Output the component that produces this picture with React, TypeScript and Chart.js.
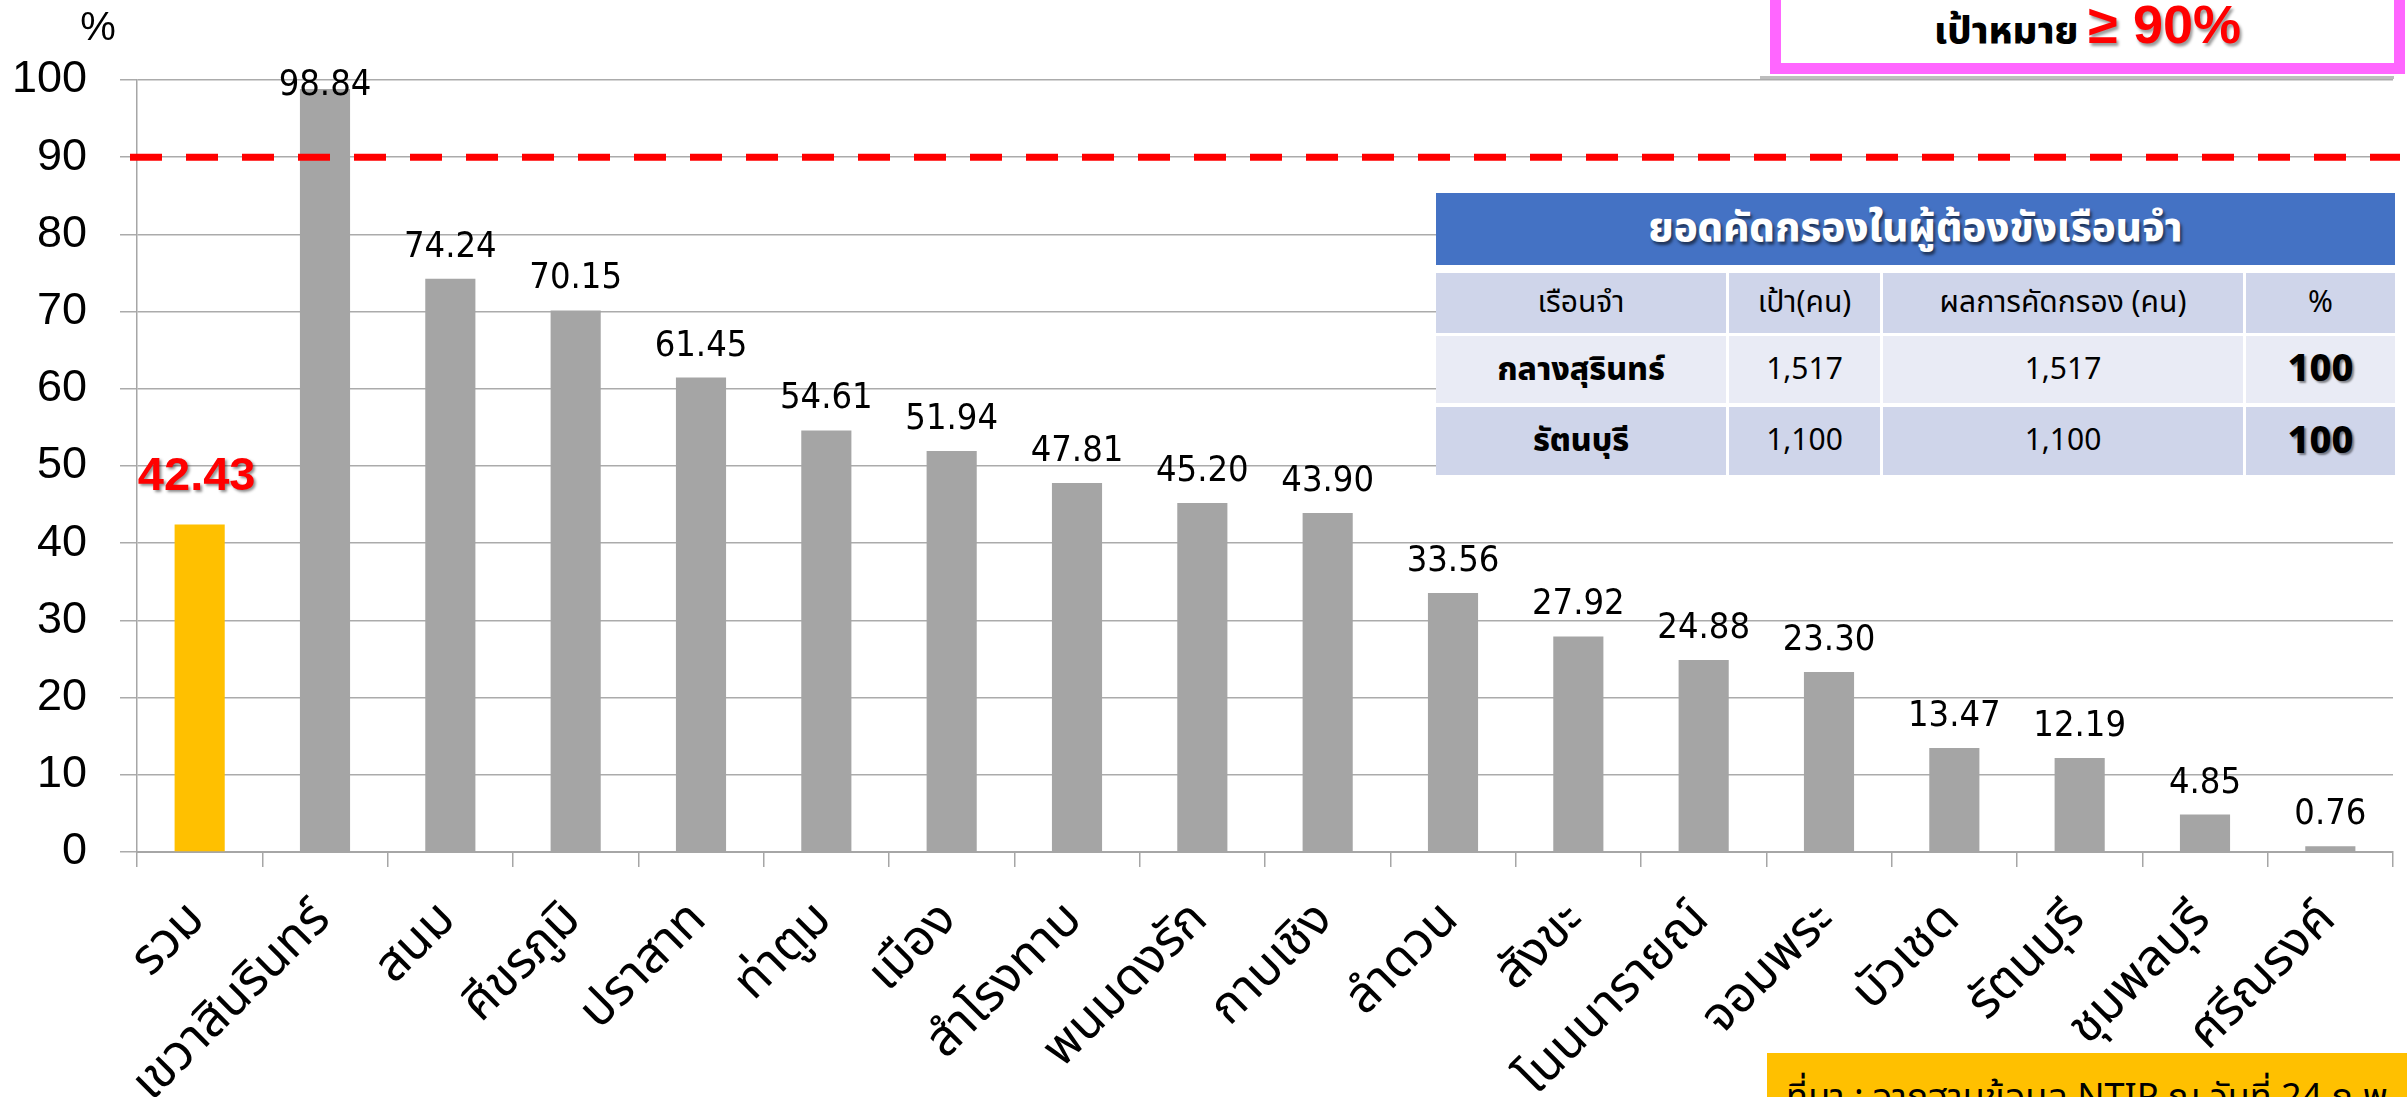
import React, { useEffect, useRef } from "react";
import { Chart, registerables } from "chart.js";

Chart.register(...registerables);

// ---------- data ----------
const categories = [
  "รวม",
  "เขวาสินรินทร์",
  "สนม",
  "ศีขรภูมิ",
  "ปราสาท",
  "ท่าตูม",
  "เมือง",
  "สำโรงทาบ",
  "พนมดงรัก",
  "กาบเชิง",
  "ลำดวน",
  "สังขะ",
  "โนนนารายณ์",
  "จอมพระ",
  "บัวเชด",
  "รัตนบุรี",
  "ชุมพลบุรี",
  "ศรีณรงค์",
];
const values = [
  42.43, 98.84, 74.24, 70.15, 61.45, 54.61, 51.94, 47.81, 45.2, 43.9, 33.56,
  27.92, 24.88, 23.3, 13.47, 12.19, 4.85, 0.76,
];
const TARGET = 90;
const Y_MIN = 0;
const Y_MAX = 100;
const Y_STEP = 10;
const yUnit = "%";
const targetTitle = "เป้าหมาย";
const targetText = "≥ 90%";
const tableTitle = "ยอดคัดกรองในผู้ต้องขังเรือนจำ";
const tableHeader = ["เรือนจำ", "เป้า(คน)", "ผลการคัดกรอง (คน)", "%"];
const tablePrisons = ["กลางสุรินทร์", "รัตนบุรี"];
const tableTargets = ["1,517", "1,100"];
const tableResults = ["1,517", "1,100"];
const tablePercents = ["100", "100"];
const sourceNote = "ที่มา : จากฐานข้อมูล NTIP ณ วันที่ 24 ก.พ. 2568";

const FONT = "'Noto Sans Thai', 'Noto Sans', Roboto, sans-serif";
const NUM_FONT = "'DejaVu Sans Condensed', 'Liberation Sans Narrow', 'Liberation Sans', sans-serif";
const W = 2407;
const H = 1097;

const labelPlugin = {
  id: "overlayLabels",
  afterDatasetsDraw(chart: any) {
    const { ctx, chartArea, scales } = chart;
    const y = scales.y;
    // target line
    const ty = y.getPixelForValue(TARGET);
    ctx.save();
    ctx.strokeStyle = "#FF0000";
    ctx.lineWidth = 7;
    ctx.setLineDash([32, 24]);
    ctx.beginPath();
    ctx.moveTo(130, ty);
    ctx.lineTo(2400, ty);
    ctx.stroke();
    ctx.restore();

    // value labels
    const meta = chart.getDatasetMeta(0);
    meta.data.forEach((bar: any, i: number) => {
      const v = values[i];
      const txt = v.toFixed(2);
      ctx.save();
      ctx.textAlign = "center";
      ctx.textBaseline = "alphabetic";
      if (i === 0) {
        ctx.font = `bold 47px 'Liberation Sans', Arial, sans-serif`;
        ctx.fillStyle = "#FF0000";
        ctx.shadowColor = "rgba(0,0,0,0.45)";
        ctx.shadowOffsetX = 2;
        ctx.shadowOffsetY = 2;
        ctx.shadowBlur = 3;
        ctx.fillText(txt, bar.x - 3, bar.y - 34);
      } else {
        ctx.font = `36px ${NUM_FONT}`;
        ctx.fillStyle = "#000000";
        const base = Math.max(bar.y - 22, chartArea.top + 15);
        ctx.fillText(txt, bar.x, base);
      }
      ctx.restore();
    });

    // y unit
    ctx.save();
    ctx.font = `40px 'Liberation Sans', Arial, sans-serif`;
    ctx.fillStyle = "#000";
    ctx.textAlign = "center";
    ctx.textBaseline = "alphabetic";
    ctx.fillText(yUnit, 98, 40);
    ctx.restore();
  },
};

export default function App() {
  const ref = useRef<HTMLCanvasElement | null>(null);

  useEffect(() => {
    if (!ref.current) return;
    const chart = new Chart(ref.current, {
      type: "bar",
      data: {
        labels: categories,
        datasets: [
          {
            data: values,
            backgroundColor: values.map((_, i) => (i === 0 ? "#FFC000" : "#A5A5A5")),
            barPercentage: 0.4,
            categoryPercentage: 1,
          },
        ],
      },
      options: {
        animation: false,
        responsive: false,
        maintainAspectRatio: false,
        devicePixelRatio: 1,
        layout: { padding: { top: 80, right: 14, left: 0, bottom: 0 }, autoPadding: false },
        plugins: { legend: { display: false }, tooltip: { enabled: false } },
        scales: {
          x: {
            grid: {
              display: true,
              drawOnChartArea: false,
              drawTicks: true,
              tickLength: 15,
              color: "#A6A6A6",
              lineWidth: 1.5,
              offset: true,
            },
            border: { color: "#A6A6A6", width: 2 },
            ticks: {
              maxRotation: 45,
              minRotation: 45,
              autoSkip: false,
              font: { size: 50, family: FONT },
              color: "#000",
              padding: 26,
            },
            afterFit: (s: any) => {
              s.height = H - 852;
            },
          },
          y: {
            min: Y_MIN,
            max: Y_MAX,
            ticks: {
              stepSize: Y_STEP,
              font: { size: 45, family: "'Liberation Sans', Arial, sans-serif" },
              color: "#000",
              padding: 33,
            },
            grid: { color: "#ABABAB", lineWidth: 1.5, tickLength: 17 },
            border: { color: "#A6A6A6", width: 1.5 },
            afterFit: (s: any) => {
              s.width = 137;
            },
          },
        },
      },
      plugins: [labelPlugin],
    });
    return () => chart.destroy();
  }, []);

  const cols = [1436, 1727, 1881, 2244, 2395];
  const rows: [number, number][] = [
    [273, 333],
    [336, 403],
    [407, 475],
  ];
  const rowColors = ["#CFD5EA", "#E9EBF5", "#CFD5EA"];
  const cellRows: string[][] = [
    tableHeader,
    [tablePrisons[0], tableTargets[0], tableResults[0], tablePercents[0]],
    [tablePrisons[1], tableTargets[1], tableResults[1], tablePercents[1]],
  ];

  return (
    <div
      style={{
        position: "absolute",
        left: 0,
        top: 0,
        width: W,
        height: H,
        overflow: "hidden",
        background: "#fff",
        fontFamily: FONT,
      }}
    >
      <canvas ref={ref} width={W} height={H} style={{ position: "absolute", left: 0, top: 0 }} />

      {/* target box */}
      <div
        style={{ position: "absolute", left: 1760, top: 76, width: 634, height: 3, background: "#BDBDBD" }}
      />
      <div
        style={{
          position: "absolute",
          left: 1770,
          top: -40,
          width: 635,
          height: 114,
          boxSizing: "border-box",
          border: "11px solid #FF66FF",
          background: "#fff",
        }}
      />
      <div
        style={{
          position: "absolute",
          left: 1770,
          width: 635,
          top: -6,
          height: 60,
          textAlign: "center",
          whiteSpace: "nowrap",
          lineHeight: "60px",
        }}
      >
        <span style={{ fontSize: 38, fontWeight: 800, color: "#000" }}>{targetTitle} </span>
        <span
          style={{
            fontSize: 54,
            fontWeight: 700,
            color: "#FF0000",
            fontFamily: "'Liberation Sans', Arial, sans-serif",
            textShadow: "2px 3px 3px rgba(0,0,0,0.4)",
          }}
        >
          {targetText}
        </span>
      </div>

      {/* table */}
      <div
        style={{ position: "absolute", left: 1436, top: 193, width: 959, height: 282, background: "#fff" }}
      />
      <div
        style={{
          position: "absolute",
          left: 1436,
          top: 193,
          width: 959,
          height: 72,
          background: "#4472C4",
          color: "#fff",
          fontWeight: 800,
          fontSize: 40,
          display: "flex",
          alignItems: "center",
          justifyContent: "center",
          textShadow: "2px 3px 3px rgba(0,0,0,0.55)",
          whiteSpace: "nowrap",
        }}
      >
        {tableTitle}
      </div>
      {cellRows.map((r, ri) =>
        r.map((txt, ci) => {
          const left = cols[ci] + (ci > 0 ? 2 : 0);
          const width = cols[ci + 1] - left - (ci < 3 ? 1 : 0);
          const isName = ri > 0 && ci === 0;
          const isPct = ri > 0 && ci === 3;
          return (
            <div
              key={`${ri}-${ci}`}
              style={{
                position: "absolute",
                left,
                width,
                top: rows[ri][0],
                height: rows[ri][1] - rows[ri][0],
                background: rowColors[ri],
                display: "flex",
                alignItems: "center",
                justifyContent: "center",
                fontSize: isPct ? 38 : isName ? 32 : 30,
                fontWeight: isPct || isName ? 800 : 400,
                color: "#000",
                textShadow: isPct ? "2px 2px 2px rgba(0,0,0,0.45)" : "none",
                whiteSpace: "nowrap",
              }}
            >
              {txt}
            </div>
          );
        })
      )}

      {/* source note */}
      <div
        style={{
          position: "absolute",
          left: 1767,
          top: 1053,
          width: 700,
          height: 100,
          background: "#FFC000",
          color: "#000",
          fontSize: 36,
          whiteSpace: "nowrap",
          paddingLeft: 19,
          paddingTop: 20,
          boxSizing: "border-box",
          lineHeight: "50px",
        }}
      >
        {sourceNote}
      </div>
    </div>
  );
}
